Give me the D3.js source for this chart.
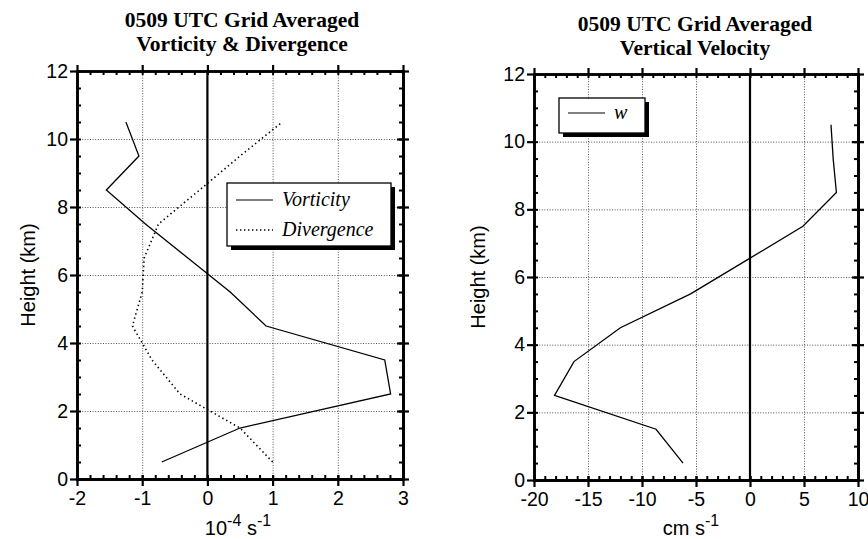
<!DOCTYPE html>
<html>
<head>
<meta charset="utf-8">
<script src="https://cdn.jsdelivr.net/npm/d3@7/dist/d3.min.js"></script>
<style>
  body { margin: 0; background: #fff; }
  svg { display: block; }
  .tick text { font-family: "Liberation Sans", Arial, sans-serif; font-size: 19.5px; fill: #000; }
  .axis path.domain { stroke: #000; stroke-width: 2.6; stroke-linecap: square; }
  .axis line { stroke: #000; stroke-width: 2.2; }
  .minor line { stroke-width: 2; }
  .grid line { stroke: #444; stroke-width: 0.9; stroke-dasharray: 1,1.6; }
  .grid path { display: none; }
  .title { font-family: "Liberation Serif", "Times New Roman", serif; font-weight: bold; font-size: 21.5px; text-anchor: middle; }
  .ylabel, .xlabel { font-family: "Liberation Sans", Arial, sans-serif; font-size: 20px; text-anchor: middle; }
  .leg { font-family: "Liberation Serif", "Times New Roman", serif; font-style: italic; font-size: 20px; }
</style>
</head>
<body>
<svg id="chart" width="868" height="539"></svg>
<script>
// heights of the grid-averaged levels (km)
var heights = [0.5, 1.5, 2.5, 3.5, 4.5, 5.5, 6.5, 7.5, 8.5, 9.5, 10.5];
// 10^-4 s^-1
var vorticity  = [-0.7, 0.5, 2.81, 2.72, 0.9, 0.35, -0.3, -0.95, -1.55, -1.05, -1.25];
var divergence = [1.0, 0.5, -0.42, -0.85, -1.15, -1.0, -0.97, -0.75, -0.12, 0.5, 1.15];
// cm s^-1
var wVel = [-6.2, -8.7, -18.1, -16.3, -12.0, -5.5, -0.3, 4.9, 8.0, 7.7, 7.5];

var leftXTicks = [-2, -1, 0, 1, 2, 3];
var rightXTicks = [-20, -15, -10, -5, 0, 5, 10];
var yTicks = [0, 2, 4, 6, 8, 10, 12];

var svg = d3.select("#chart");
var plain = function(d) { return String(d); };   // keep the plain hyphen of the original

function drawPanel(cfg) {
    var x = d3.scaleLinear().domain(cfg.xDomain).range([cfg.left, cfg.right]);
    var y = d3.scaleLinear().domain([0, 12]).range([cfg.bottom, cfg.top]);
    var w = cfg.right - cfg.left, h = cfg.bottom - cfg.top;
    var g = svg.append("g");

    // gridlines
    g.append("g").attr("class", "grid")
        .attr("transform", "translate(0," + cfg.bottom + ")")
        .call(d3.axisBottom(x).tickValues(cfg.xTicks.filter(function(d){ return d != 0 && d != cfg.xDomain[0] && d != cfg.xDomain[1]; }))
            .tickSize(-h).tickFormat(""));
    g.append("g").attr("class", "grid")
        .attr("transform", "translate(" + cfg.left + ",0)")
        .call(d3.axisLeft(y).tickValues([2, 4, 6, 8, 10]).tickSize(-w).tickFormat(""));

    // zero line
    g.append("line")
        .attr("x1", x(0)).attr("x2", x(0))
        .attr("y1", y(0)).attr("y2", y(12))
        .attr("stroke", "#000").attr("stroke-width", 2.2);

    var minorX = d3.range(cfg.xDomain[0], cfg.xDomain[1] + 1e-9, cfg.xMinor);
    var minorY = d3.range(0, 12.001, 0.5);

    // bottom
    g.append("g").attr("class", "axis").attr("transform", "translate(0," + cfg.bottom + ")")
        .call(d3.axisBottom(x).tickValues(cfg.xTicks).tickSize(7).tickSizeOuter(0).tickPadding(5).tickFormat(plain));
    g.append("g").attr("class", "axis minor").attr("transform", "translate(0," + cfg.bottom + ")")
        .call(d3.axisBottom(x).tickValues(minorX).tickSize(-4).tickSizeOuter(0).tickFormat(""));
    g.append("g").attr("class", "axis").attr("transform", "translate(0," + cfg.bottom + ")")
        .call(d3.axisBottom(x).tickValues(cfg.xTicks).tickSize(-4).tickSizeOuter(0).tickFormat(""));
    // top
    g.append("g").attr("class", "axis").attr("transform", "translate(0," + cfg.top + ")")
        .call(d3.axisTop(x).tickValues(cfg.xTicks).tickSize(6).tickSizeOuter(0).tickFormat(""));
    g.append("g").attr("class", "axis minor").attr("transform", "translate(0," + cfg.top + ")")
        .call(d3.axisTop(x).tickValues(minorX).tickSize(-4).tickSizeOuter(0).tickFormat(""));
    // left
    g.append("g").attr("class", "axis").attr("transform", "translate(" + cfg.left + ",0)")
        .call(d3.axisLeft(y).tickValues(yTicks).tickSize(7).tickSizeOuter(0).tickPadding(2).tickFormat(plain));
    g.append("g").attr("class", "axis minor").attr("transform", "translate(" + cfg.left + ",0)")
        .call(d3.axisLeft(y).tickValues(minorY).tickSize(-4).tickSizeOuter(0).tickFormat(""));
    // right
    g.append("g").attr("class", "axis").attr("transform", "translate(" + cfg.right + ",0)")
        .call(d3.axisRight(y).tickValues(yTicks).tickSize(6).tickSizeOuter(0).tickFormat(""));
    g.append("g").attr("class", "axis").attr("transform", "translate(" + cfg.right + ",0)")
        .call(d3.axisRight(y).tickValues(yTicks).tickSize(-6).tickSizeOuter(0).tickFormat(""));
    g.append("g").attr("class", "axis minor").attr("transform", "translate(" + cfg.right + ",0)")
        .call(d3.axisRight(y).tickValues(minorY).tickSize(-4).tickSizeOuter(0).tickFormat(""));

    // series
    cfg.series.forEach(function(s) {
        var line = d3.line()
            .x(function(d, i) { return x(s.values[i]); })
            .y(function(d) { return y(d); });
        g.append("path")
            .datum(heights)
            .attr("d", line)
            .attr("fill", "none")
            .attr("stroke", "#000")
            .attr("stroke-width", s.dash ? 1.6 : 1.3)
            .attr("stroke-dasharray", s.dash ? "1.4,3" : null);
    });

    // titles
    cfg.title.forEach(function(t, i) {
        g.append("text").attr("class", "title")
            .attr("x", cfg.titleX).attr("y", cfg.titleY + i * 24).text(t);
    });

    // y label
    g.append("text").attr("class", "ylabel")
        .attr("transform", "translate(" + cfg.ylabX + "," + ((cfg.top + cfg.bottom) / 2) + ") rotate(-90)")
        .text("Height (km)");

    // x label
    var xl = g.append("text").attr("class", "xlabel")
        .attr("x", cfg.xlabX).attr("y", 535);
    cfg.xlab.forEach(function(p) {
        var ts = xl.append("tspan").text(p.t);
        if (p.sup) ts.attr("font-size", 16).attr("dy", -9);
        if (p.down) ts.attr("dy", 9);
    });

    // legend
    var lg = cfg.legend;
    g.append("rect").attr("x", lg.x + 4).attr("y", lg.y + 4)
        .attr("width", lg.w).attr("height", lg.h).attr("fill", "#000");
    g.append("rect").attr("x", lg.x).attr("y", lg.y)
        .attr("width", lg.w).attr("height", lg.h)
        .attr("fill", "#fff").attr("stroke", "#000").attr("stroke-width", 1.3);
    lg.items.forEach(function(it, i) {
        var yy = lg.y + lg.first + i * 30;
        g.append("line").attr("x1", lg.x + 9).attr("x2", lg.x + 46)
            .attr("y1", yy).attr("y2", yy)
            .attr("stroke", "#000").attr("stroke-width", it.dash ? 1.5 : 1.2)
            .attr("stroke-dasharray", it.dash ? "1.4,2.6" : null);
        g.append("text").attr("class", "leg")
            .attr("x", lg.x + 55).attr("y", yy + 6).text(it.name);
    });
}

drawPanel({
    xDomain: [-2, 3], xTicks: leftXTicks, xMinor: 0.2,
    left: 77, right: 403, top: 71, bottom: 479,
    series: [{values: vorticity, dash: false}, {values: divergence, dash: true}],
    title: ["0509 UTC Grid Averaged", "Vorticity & Divergence"], titleX: 242, titleY: 27,
    ylabX: 35, xlabX: 238,
    xlab: [{t: "10"}, {t: "-4", sup: true}, {t: " s", down: true}, {t: "-1", sup: true}],
    legend: {x: 227, y: 183, w: 164, h: 63, first: 17,
             items: [{name: "Vorticity", dash: false}, {name: "Divergence", dash: true}]}
});

drawPanel({
    xDomain: [-20, 10], xTicks: rightXTicks, xMinor: 1,
    left: 534, right: 858, top: 74, bottom: 480,
    series: [{values: wVel, dash: false}],
    title: ["0509 UTC Grid Averaged", "Vertical Velocity"], titleX: 695, titleY: 31,
    ylabX: 485, xlabX: 691,
    xlab: [{t: "cm s"}, {t: "-1", sup: true}],
    legend: {x: 559, y: 98, w: 86, h: 35, first: 15,
             items: [{name: "w", dash: false}]}
});
</script>
</body>
</html>
